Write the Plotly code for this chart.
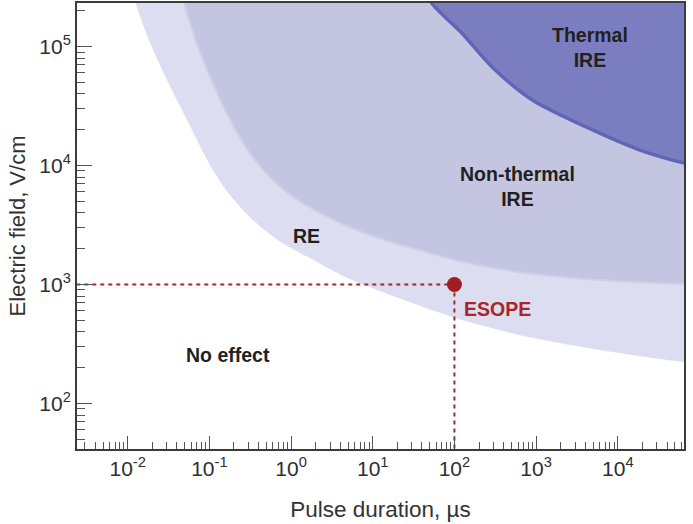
import plotly.graph_objects as go

# ---- data (pulse duration in µs, electric field in V/cm) ----
re_lower_x = [0.0100, 0.0172, 0.0304, 0.0536, 0.0944, 0.167, 0.339, 0.687, 1.61, 4.35, 20.7, 104, 621, 6000, 65000, 2.0e5]
re_lower_y = [3.6e5, 1.25e5, 5.2e4, 2.4e4, 1.11e4, 6.0e3, 3.5e3, 2.37e3, 1.70e3, 1.18e3, 771, 524, 377, 282, 223, 205]

nt_lower_x = [0.0440, 0.0711, 0.1365, 0.294, 0.597, 1.21, 3.77, 11.7, 36.5, 113, 621, 6000, 65000, 1.8e5]
nt_lower_y = [2.99e5, 1.03e5, 3.55e4, 1.35e4, 7.55e3, 5.13e3, 3.35e3, 2.46e3, 1.95e3, 1.58e3, 1.27e3, 1.09e3, 1.01e3, 1.0e3]

thermal_x = [45.7, 52.7, 123, 289, 897, 6000, 18700, 65000, 2.4e5]
thermal_y = [2.99e5, 2.32e5, 1.30e5, 6.73e4, 3.55e4, 1.87e4, 1.35e4, 1.05e4, 8.8e3]

esope_x = [100]
esope_y = [1000]

x_tickvals = [1e-2, 1e-1, 1e0, 1e1, 1e2, 1e3, 1e4]
x_ticktext = ["10<sup>-2</sup>", "10<sup>-1</sup>", "10<sup>0</sup>", "10<sup>1</sup>",
              "10<sup>2</sup>", "10<sup>3</sup>", "10<sup>4</sup>"]
y_tickvals = [1e2, 1e3, 1e4, 1e5]
y_ticktext = ["10<sup>2</sup>", "10<sup>3</sup>", "10<sup>4</sup>", "10<sup>5</sup>"]

FAR = 1e9  # closes the regions well outside the visible axes


def region(xs, ys):
    px = list(xs) + [FAR, FAR, xs[0]]
    py = list(ys) + [ys[-1], FAR, FAR]
    return px, py


C_RE = "#DCDDF1"
C_NT = "#C4C5E1"
C_TH = "#7A7EC0"
C_TH_EDGE = "#6066B6"
C_RED = "#A8262A"
C_TEXT = "#231F20"
FONT = "Liberation Sans, Arial, sans-serif"

fig = go.Figure()

for xs, ys, col in [(re_lower_x, re_lower_y, C_RE),
                    (nt_lower_x, nt_lower_y, C_NT),
                    (thermal_x, thermal_y, C_TH)]:
    px, py = region(xs, ys)
    fig.add_trace(go.Scatter(x=px, y=py, mode="lines", fill="toself", fillcolor=col,
                             line=dict(width=0, color=col, shape="spline", smoothing=0.8),
                             hoverinfo="skip", showlegend=False))

# subtle lighter rim of non-thermal region
fig.add_trace(go.Scatter(x=nt_lower_x, y=nt_lower_y, mode="lines",
                         line=dict(width=2, color="#CFD0E8", shape="spline", smoothing=0.8),
                         hoverinfo="skip", showlegend=False))
# darker rim of thermal region
fig.add_trace(go.Scatter(x=thermal_x, y=thermal_y, mode="lines",
                         line=dict(width=3.5, color=C_TH_EDGE, shape="spline", smoothing=0.8),
                         hoverinfo="skip", showlegend=False))

# ESOPE guide lines
fig.add_trace(go.Scatter(x=[1e-4, esope_x[0]], y=[esope_y[0], esope_y[0]], mode="lines",
                         line=dict(width=2, color=C_RED, dash="4px,4px"),
                         hoverinfo="skip", showlegend=False))
fig.add_trace(go.Scatter(x=[esope_x[0], esope_x[0]], y=[esope_y[0], 1], mode="lines",
                         line=dict(width=2, color=C_RED, dash="4px,4px"),
                         hoverinfo="skip", showlegend=False))
fig.add_trace(go.Scatter(x=esope_x, y=esope_y, mode="markers",
                         marker=dict(size=15, color="#9E1E22"),
                         hoverinfo="skip", showlegend=False))

label_font = dict(family=FONT, size=19.5, color=C_TEXT)
labels = [
    ("No effect", -0.772, 2.408),
    ("RE", 0.195, 3.408),
    ("Non-thermal<br>IRE", 2.766, 3.828),
    ("Thermal<br>IRE", 3.659, 4.988),
]
for txt, lx, ly in labels:
    fig.add_annotation(x=lx, y=ly, xref="x", yref="y", text="<b>" + txt + "</b>",
                       showarrow=False, font=label_font, xanchor="center", yanchor="middle",
                       align="center")
fig.add_annotation(x=2.092, y=2.795, xref="x", yref="y", text="<b>ESOPE</b>", showarrow=False,
                   font=dict(family=FONT, size=19.5, color=C_RED),
                   xanchor="left", yanchor="middle")

axis_common = dict(
    type="log", showgrid=False, zeroline=False,
    showline=True, linecolor="#3C3C3C", linewidth=2, mirror=True,
    ticks="inside", tickcolor="#555555", tickwidth=1,
    tickfont=dict(family=FONT, size=21, color="#2E2E2E"),
    tickmode="array", automargin=False,
)

fig.update_layout(
    width=693, height=524, autosize=False,
    margin=dict(l=77, r=9, t=3, b=75),
    paper_bgcolor="white", plot_bgcolor="white",
    template="none",
    font=dict(family=FONT, color="#333333"),
    xaxis=dict(axis_common, range=[-2.62, 4.81], tickvals=x_tickvals, ticktext=x_ticktext,
               ticklen=13,
               minor=dict(ticks="inside", ticklen=7, tickcolor="#555555", tickwidth=1,
                          dtick="D1", showgrid=False),
               title=dict(text="Pulse duration, µs",
                          font=dict(family=FONT, size=22.5, color="#333333"),
                          standoff=22)),
    yaxis=dict(axis_common, range=[1.618, 5.366], tickvals=y_tickvals, ticktext=y_ticktext,
               ticklen=15,
               minor=dict(ticks="inside", ticklen=8, tickcolor="#555555", tickwidth=1,
                          dtick="D1", showgrid=False),
               title=dict(text="Electric field, V/cm",
                          font=dict(family=FONT, size=22, color="#333333"),
                          standoff=8)),
)

fig.write_html("out.html", config={"displayModeBar": False},
               post_script="document.body.style.margin='0px';")
